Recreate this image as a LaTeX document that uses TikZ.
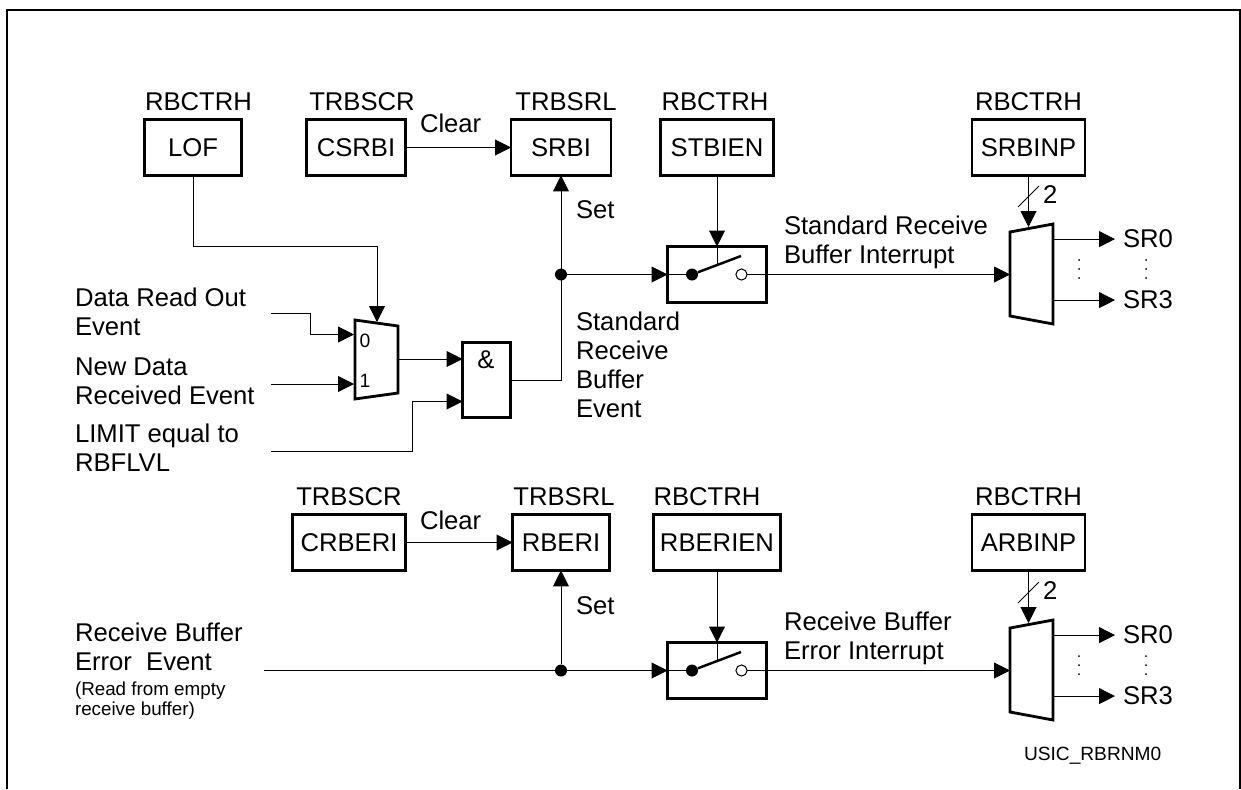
\documentclass[tikz,border=0pt]{standalone}
\usepackage{fontspec}
\setmainfont{Liberation Sans}
\usepackage{tikz}
\usetikzlibrary{arrows.meta, positioning, calc}
\newcommand{\mainsize}{\fontsize{14.6}{16.5}\selectfont}
\tikzset{
  base/.style   = {inner sep=0pt, outer sep=0pt, font=\mainsize},
  txt/.style    = {base, align=left, anchor=north west},
  reglabel/.style = {base},
  regbox/.style = {base, draw, line width=1.6pt, minimum width=1.94cm, minimum height=1.12cm},
  widebox/.style = {regbox, minimum width=2.26cm},
  switchbox/.style = {regbox, minimum width=1.98cm, minimum height=1.12cm},
  muxbox/.style = {base, minimum width=0.86cm, minimum height=2cm},
  muxline/.style = {line width=1.6pt, line join=miter},
  arr/.style    = {-{Triangle[length=9pt,width=9pt]}, line width=0.5pt},
  wire/.style   = {line width=0.5pt},
  junction/.style = {circle, fill=black, inner sep=0pt, minimum size=0.24cm},
  contact/.style = {circle, draw, fill=white, line width=0.5pt, inner sep=0pt, minimum size=0.22cm},
}
\begin{document}
\begin{tikzpicture}[x=0.02cm, y=-0.02cm, node distance=0.17cm]
  \useasboundingbox (0,0) rectangle (1241,789);
  \draw[line width=1.4pt] (7,789) -- (7,10) -- (1240,10) -- (1240,789);

  % upper registers
  \node[regbox]  (lof)    at (193,147.5)    {LOF};
  \node[regbox, minimum width=1.98cm] (csrbi) at (356,147.5) {CSRBI};
  \node[regbox, minimum width=2cm]    (srbi)  at (561,147.5) {SRBI};
  \node[widebox] (stbien) at (717,147.5)    {STBIEN};
  \node[widebox] (srbinp) at (1028.5,147.5) {SRBINP};
  \node[reglabel, above=of lof, xshift=0.11cm]    (loflabel)    {RBCTRH};
  \node[reglabel, above=of csrbi, xshift=0.12cm]  (csrbilabel)  {TRBSCR};
  \node[reglabel, above=of srbi, xshift=0.1cm]    (srbilabel)   {TRBSRL};
  \node[reglabel, above=of stbien, xshift=-0.04cm] (stbienlabel) {RBCTRH};
  \node[reglabel, above=of srbinp] (srbinplabel) {RBCTRH};

  % lower registers
  \node[widebox] (crberi)  at (349,542.5)  {CRBERI};
  \node[regbox]  (rberi)   at (561,542.5)  {RBERI};
  \node[widebox, minimum width=2.54cm] (rberien) at (717,542.5) {RBERIEN};
  \node[widebox] (arbinp)  at (1028.5,542.5) {ARBINP};
  \node[reglabel, above=of crberi]  (crberilabel)  {TRBSCR};
  \node[reglabel, above=of rberi, xshift=0.06cm]    (rberilabel)   {TRBSRL};
  \node[reglabel, above=of rberien, xshift=-0.2cm]  (rberienlabel) {RBCTRH};
  \node[reglabel, above=of arbinp]  (arbinplabel)  {RBCTRH};

  % left side texts
  \node[txt] (readout) at (75,288)  {Data Read Out\\Event};
  \node[txt] (newdata) at (75,358)  {New Data\\Received Event};
  \node[txt] (limit)   at (75,424)  {LIMIT equal to\\RBFLVL};
  \node[txt] (errev)   at (75,623)  {Receive Buffer\\Error\ \ Event};
  \node[txt, font=\fontsize{10.7}{11.4}\selectfont] (errnote) at (75,682) {(Read from empty\\receive buffer)};

  % first selector and gate
  \node[muxbox, minimum height=1.58cm] (muxs) at (376.5,359.5) {};
  \draw[muxline] ($(muxs.north west)$) -- ($(muxs.north east)+(0,6)$)
    -- ($(muxs.south east)+(0,-6)$) -- (muxs.south west) -- cycle;
  \node[base, font=\fontsize{11}{12}\selectfont] (muxzero) at (365,341) {0};
  \node[base, font=\fontsize{11}{12}\selectfont] (muxone)  at (365,381) {1};
  \node[regbox, minimum width=0.96cm, minimum height=1.5cm] (andgate) at (486.5,380) {};
  \node[base] (andsign) at (486,360) {\&};

  \coordinate (lofbend) at (193,246);
  \coordinate (muxstop) at (377,322);
  \draw[arr] (lof.south) -- (lofbend) -| (muxstop);
  \coordinate (readend) at (271,313);
  \coordinate (readin)  at (354,334.5);
  \draw[arr] (readend) -| (310,334.5) -- (readin);
  \coordinate (newend) at (271,384);
  \coordinate (newin)  at (354,384);
  \draw[arr] (newend) -- (newin);
  \coordinate (limend) at (271,451);
  \coordinate (limin)  at (andgate.west |- 0,401.5);
  \draw[arr] (limend) -| (412,401.5) -- (limin);
  \draw[arr] (muxs.east |- 0,359) -- (andgate.west |- 0,359);

  % upper switch
  \node[switchbox] (swa) at (717,274.5) {};
  \node[junction] (juncsw) at (692,274.5) {};
  \node[contact]  (contsw) at (741.5,274.5) {};
  \node[junction] (junca)  at (srbi.south |- swa.west) {};
  \draw[arr] (andgate.east) -| (srbi.south);
  \draw[arr] (junca) -- (swa.west);
  \draw[wire] (swa.west) -- (juncsw);
  \draw[line width=1.4pt] (juncsw) -- (741,256);
  \draw[arr] (stbien.south) -- (swa.north);
  \draw[wire] (swa.north) -- (717,265);
  \node[txt] (stdint) at (784,216) {Standard Receive\\Buffer Interrupt};
  \node[txt] (stdev)  at (576,312) {Standard\\Receive\\Buffer\\Event};
  \node[txt] (seta)   at (576,201) {Set};
  \node[txt] (cleara) at (420,114) {Clear};
  \draw[arr] (csrbi.east) -- (srbi.west);

  % lower switch
  \node[switchbox] (swb) at (717,670.5) {};
  \node[junction] (juncsb) at (692,670.5) {};
  \node[contact]  (contsb) at (741.5,670.5) {};
  \node[junction] (juncb)  at (rberi.south |- swb.west) {};
  \coordinate (errend) at (264,670.5);
  \draw[arr] (errend) -- (swb.west);
  \draw[wire] (swb.west) -- (juncsb);
  \draw[arr] (juncb) -- (rberi.south);
  \draw[line width=1.4pt] (juncsb) -- (741,652);
  \draw[arr] (rberien.south) -- (swb.north);
  \draw[wire] (swb.north) -- (717,661);
  \node[txt] (errint) at (784,612) {Receive Buffer\\Error Interrupt};
  \node[txt] (setb)   at (576,597) {Set};
  \node[txt] (clearb) at (420,511) {Clear};
  \draw[arr] (crberi.east) -- (rberi.west);

  % interrupt selectors
  \foreach \m/\src/\cont/\dy in {a/srbinp/contsw/0, b/arbinp/contsb/396} {
    \node[muxbox] (mux\m) at (1031.5,{274+\dy}) {};
    \draw[muxline] ($(mux\m.north west)+(0,8)$) -- (mux\m.north east)
      -- (mux\m.south east) -- ($(mux\m.south west)+(0,-8)$) -- cycle;
    \draw[arr] (\cont) -- (\cont -| mux\m.west);
    \draw[arr] (\src.south) -- (\src.south |- 0,{227+\dy});
    \draw[wire] (1018,{207+\dy}) -- (1039,{186+\dy});
    \node[txt] (two\m)  at (1043,{186+\dy}) {2};
    \node[txt] (srz\m)  at (1123,{230+\dy}) {SR0};
    \node[txt] (srt\m)  at (1123,{291+\dy}) {SR3};
    \draw[arr] (srz\m.west -| mux\m.east) -- ([xshift=-0.16cm]srz\m.west);
    \draw[arr] (srt\m.west -| mux\m.east) -- ([xshift=-0.16cm]srt\m.west);
    \foreach \x in {1079,1146}
      \foreach \y in {260,269,278}
        \fill ({\x},{\y+\dy}) circle[radius=0.02cm];
  }
  \node[contact] at (contsw) {};
  \node[contact] at (contsb) {};
  \node[txt, font=\fontsize{10.9}{12}\selectfont] (drawingid) at (1024,747) {USIC\_RBRNM0};
\end{tikzpicture}
\end{document}
